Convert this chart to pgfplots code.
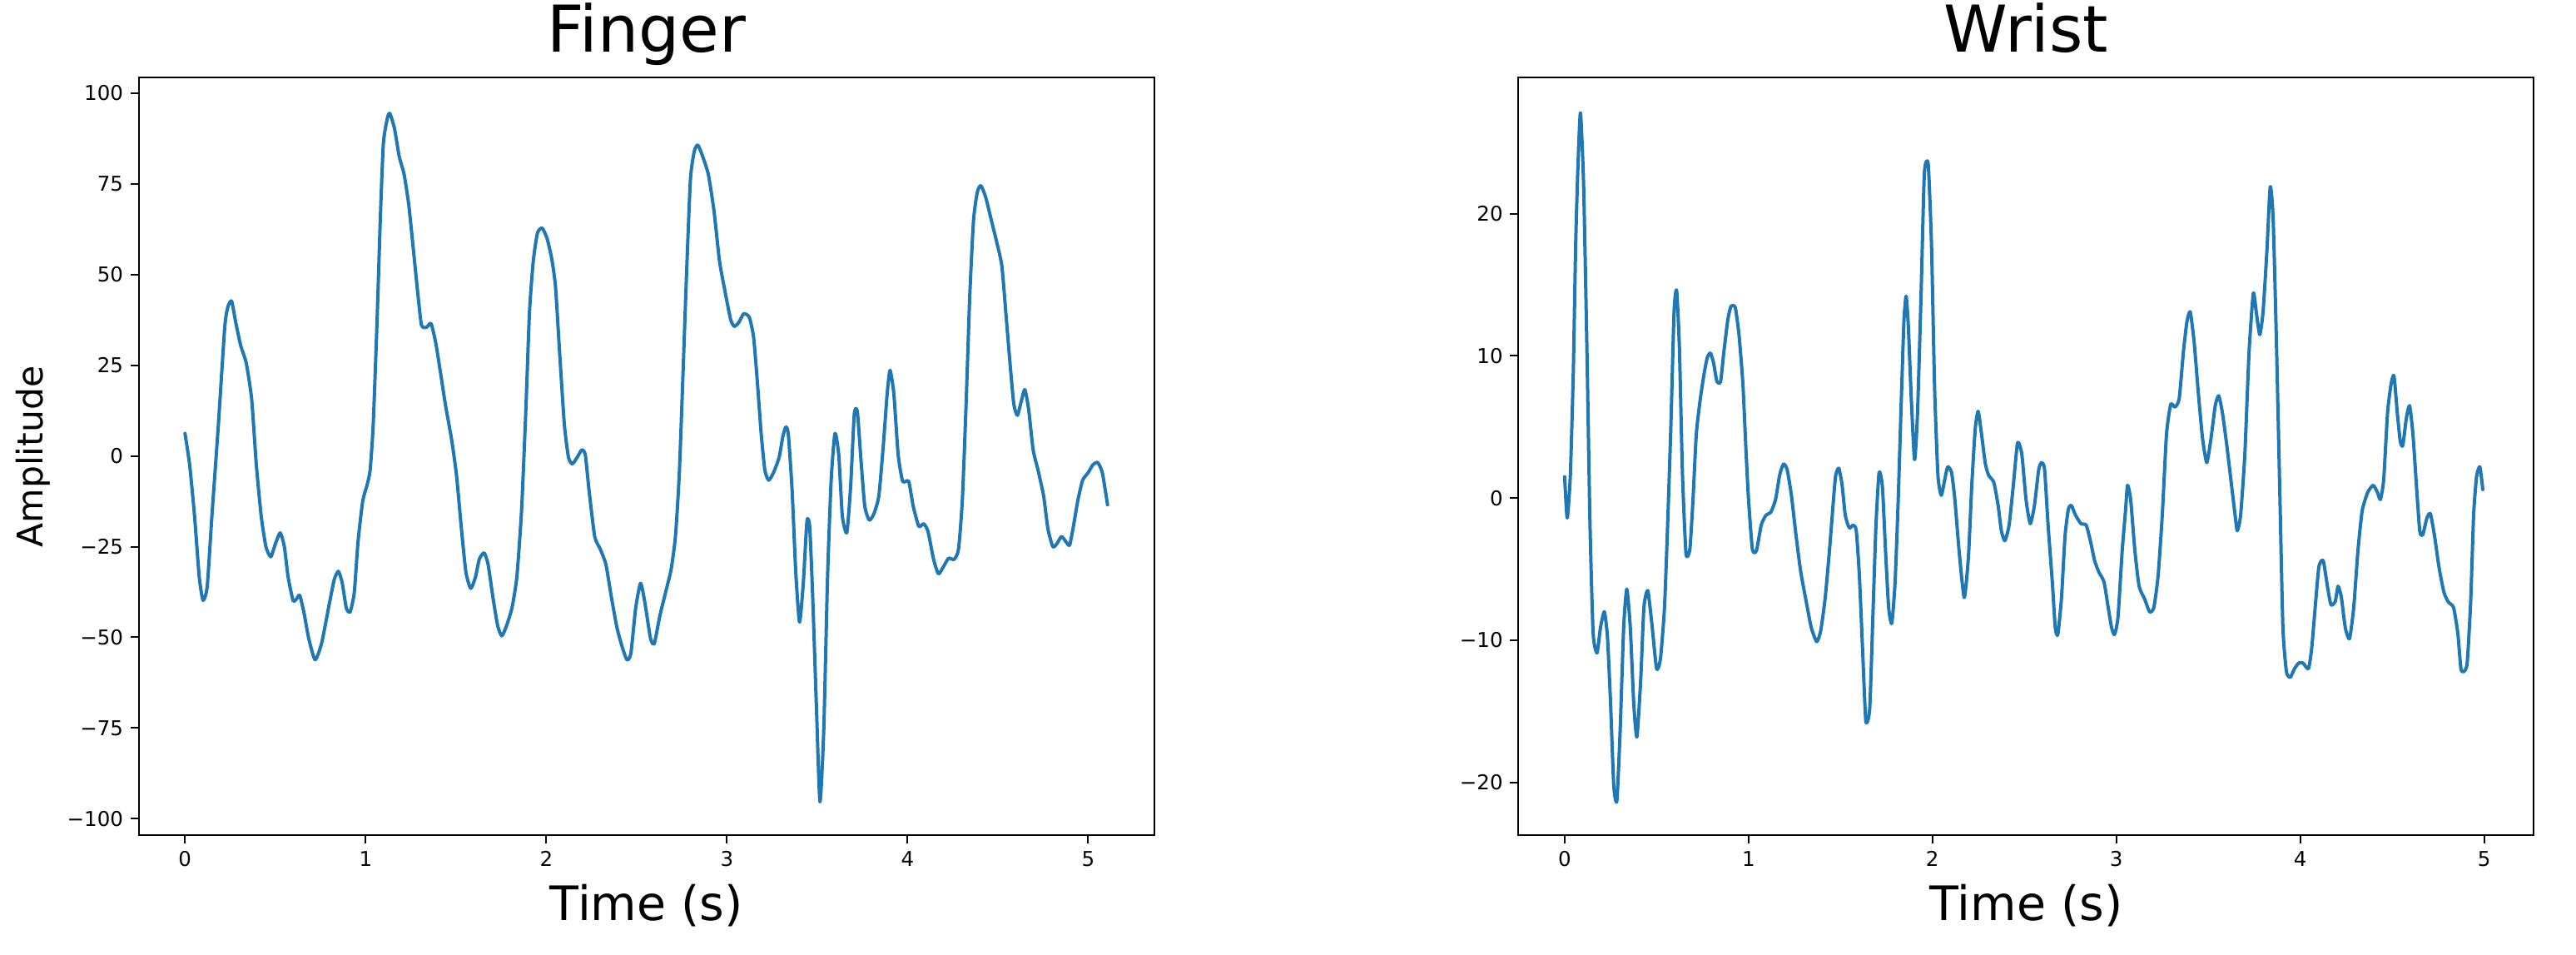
\documentclass[border=0pt]{standalone}
\usepackage{fontspec}
\setmainfont{DejaVu Sans}
\usepackage{pgfplots}
\pgfplotsset{compat=1.18}
\usepackage{pgfplotstable}
\definecolor{mplblue}{RGB}{31,119,180}

\pgfplotstableread{
t v
0 6.2
0.026 -2.5
0.053 -16.6
0.079 -33.4
0.1 -39.8
0.123 -36
0.149 -16.6
0.185 8.7
0.22 35.4
0.237 41
0.258 42.7
0.281 36.8
0.308 30.5
0.339 25.6
0.369 15.7
0.395 -2.5
0.422 -16.6
0.448 -25
0.475 -27.8
0.5 -24.3
0.527 -21.2
0.55 -25
0.571 -33.4
0.598 -39.8
0.615 -39.6
0.635 -38.4
0.659 -43.3
0.685 -50.3
0.72 -56.2
0.756 -51.7
0.8 -40.5
0.826 -34.1
0.849 -31.8
0.87 -34.9
0.893 -41.9
0.914 -43
0.937 -37.7
0.958 -23.6
0.984 -12.4
1.007 -8.2
1.025 -3.9
1.042 8.7
1.063 36.8
1.081 64.9
1.098 86
1.12 93
1.134 94.4
1.16 90.2
1.186 82.5
1.213 77.6
1.239 69.1
1.265 56.5
1.288 45.2
1.309 36.1
1.336 35.4
1.362 36.5
1.388 31.2
1.415 22.8
1.441 14.3
1.476 4.5
1.503 -5.3
1.529 -19.4
1.555 -32
1.582 -36.5
1.608 -33.4
1.629 -28.5
1.656 -26.7
1.678 -29.9
1.705 -39.1
1.731 -46.8
1.754 -49.6
1.78 -46.8
1.81 -41.9
1.837 -33.4
1.863 -15.2
1.886 11.5
1.907 39.6
1.928 53.7
1.951 61.4
1.977 62.8
2.004 60
2.03 54.4
2.051 46.7
2.074 28.4
2.1 8.7
2.123 -0.4
2.144 -2.2
2.171 -0.4
2.197 1.7
2.216 0.3
2.237 -9.6
2.268 -22.2
2.299 -25.7
2.33 -29.9
2.361 -39.1
2.392 -47.5
2.423 -53.1
2.447 -56.2
2.468 -54.5
2.495 -41.9
2.522 -35.1
2.546 -40.5
2.577 -50.3
2.598 -51.7
2.629 -44
2.66 -37.7
2.691 -31.3
2.715 -22.2
2.736 -5.3
2.757 22.8
2.777 50.9
2.798 76.2
2.819 83.9
2.839 85.7
2.866 82.5
2.897 77.6
2.928 67.7
2.959 53.7
2.99 45.2
3.021 37.5
3.041 35.7
3.066 36.8
3.093 39.2
3.124 38.2
3.148 32.6
3.169 20
3.19 5.9
3.21 -3.9
3.231 -6.7
3.258 -4.6
3.289 -0.4
3.309 5.2
3.326 8
3.34 5.9
3.361 -9.6
3.381 -32
3.402 -45.8
3.423 -34.9
3.443 -18
3.458 -19.4
3.474 -37.7
3.495 -68.6
3.515 -95.3
3.536 -75.6
3.557 -33.4
3.577 -6.7
3.598 6.2
3.619 0.3
3.639 -16.6
3.664 -21.1
3.685 -8.2
3.705 11.5
3.722 12.2
3.742 -1.1
3.763 -13.8
3.788 -17.7
3.814 -15.9
3.841 -11
3.866 3.1
3.887 17.1
3.903 23.6
3.924 17.1
3.948 0.3
3.973 -7
4.006 -7
4.031 -13.8
4.062 -19.4
4.089 -18.7
4.113 -20.8
4.144 -28.5
4.171 -32.5
4.2 -30.4
4.227 -28.2
4.258 -28.5
4.282 -25.7
4.303 -12.4
4.324 14.3
4.344 43.8
4.365 64.9
4.386 72.7
4.406 74.5
4.433 71.2
4.464 64.9
4.495 58.6
4.522 52.3
4.546 38.2
4.567 25.6
4.588 14.3
4.608 11.2
4.629 15
4.649 18.3
4.67 12.9
4.695 1.7
4.722 -3.9
4.753 -11
4.777 -20.1
4.804 -25
4.825 -24.3
4.852 -22.2
4.876 -23.6
4.897 -24.6
4.918 -19.4
4.942 -12.4
4.969 -6.7
5.0 -4.6
5.025 -2.5
5.052 -1.8
5.078 -4.6
5.107 -13.5
}\finger

\pgfplotstableread{
t v
0 1.5
0.014 -1.4
0.031 1.6
0.047 8.8
0.06 17.8
0.072 23.2
0.086 27.1
0.103 22.1
0.121 10.6
0.138 -1.9
0.155 -9.5
0.176 -10.9
0.195 -9.1
0.216 -8
0.233 -9.8
0.25 -14.5
0.267 -20.2
0.284 -21.3
0.302 -16.3
0.321 -9.1
0.338 -6.4
0.357 -9.1
0.376 -14.5
0.393 -16.8
0.414 -12.7
0.431 -7.7
0.452 -6.5
0.474 -8.8
0.5 -12
0.521 -11.3
0.543 -7.7
0.56 -1.9
0.578 5.2
0.595 13.1
0.609 14.6
0.624 10.6
0.641 1.6
0.66 -3.9
0.681 -3.6
0.698 -0.1
0.716 4.5
0.738 7
0.759 8.8
0.776 9.9
0.793 10.2
0.81 9.5
0.828 8.2
0.848 8.2
0.866 10.3
0.888 12.6
0.905 13.5
0.928 13.4
0.948 11.5
0.969 8.1
0.986 3.4
1.0 -0.1
1.021 -3.6
1.043 -3.7
1.069 -1.9
1.095 -1.2
1.121 -1
1.147 -0.1
1.169 1.6
1.19 2.4
1.21 2
1.233 0.2
1.259 -2.7
1.284 -5.2
1.314 -7.3
1.341 -9.1
1.371 -10.1
1.393 -9.3
1.417 -7
1.44 -3.7
1.462 -0.1
1.474 1.6
1.491 2.1
1.509 0.9
1.526 -1.2
1.548 -2.1
1.569 -1.9
1.586 -2.3
1.603 -5.5
1.621 -10.9
1.638 -15.7
1.659 -14.8
1.676 -8.4
1.693 -1.9
1.71 1.8
1.728 0.8
1.745 -3.7
1.762 -7.7
1.779 -8.8
1.797 -5.9
1.814 -0.1
1.831 7
1.845 12.4
1.857 14.2
1.869 12.1
1.885 7
1.903 2.7
1.919 6
1.938 14.2
1.956 22.8
1.977 23.5
1.995 17.8
2.012 7.7
2.03 1.6
2.048 0.2
2.067 1.3
2.083 2.2
2.104 1.8
2.122 -0.1
2.145 -3.7
2.173 -7
2.196 -4.1
2.214 0.9
2.233 4.9
2.249 6.1
2.267 4.5
2.288 2.4
2.306 1.6
2.334 1.1
2.357 -0.5
2.375 -2.3
2.394 -3
2.417 -1.9
2.44 0.9
2.463 3.9
2.486 3.1
2.509 -0.1
2.532 -1.8
2.555 -0.5
2.578 2
2.594 2.5
2.61 2
2.629 -1.9
2.652 -5.9
2.668 -9.1
2.682 -9.6
2.702 -7
2.721 -2.7
2.739 -0.8
2.755 -0.5
2.778 -1.2
2.808 -1.8
2.836 -1.9
2.859 -3
2.882 -4.4
2.905 -5.2
2.933 -5.9
2.956 -7.7
2.974 -9.1
2.99 -9.6
3.009 -8.4
3.032 -3.7
3.05 -0.9
3.061 0.9
3.078 -0.1
3.101 -3.7
3.124 -6.2
3.154 -7.1
3.181 -8
3.204 -7.7
3.227 -5.5
3.25 -1.2
3.273 4.5
3.296 6.6
3.319 6.4
3.342 7
3.365 10.3
3.384 12.4
3.402 13.1
3.423 11
3.446 7.4
3.469 4.2
3.492 2.5
3.515 4.2
3.538 6.5
3.557 7.2
3.577 6
3.6 3.8
3.623 1.3
3.646 -1.2
3.658 -2.3
3.676 -1.2
3.699 3.1
3.722 10.3
3.745 14.4
3.761 13.1
3.78 11.5
3.798 13.1
3.819 17.4
3.837 21.9
3.853 19.6
3.872 10.3
3.89 -0.1
3.906 -9.1
3.925 -12.2
3.946 -12.6
3.969 -12
3.992 -11.6
4.015 -11.6
4.045 -12
4.063 -10.5
4.084 -7.3
4.102 -4.8
4.125 -4.4
4.148 -6.2
4.167 -7.5
4.19 -7.3
4.206 -6.2
4.224 -7
4.245 -9.1
4.268 -9.9
4.291 -7.7
4.314 -3.7
4.337 -0.9
4.367 0.4
4.397 0.9
4.42 0.4
4.436 -0.1
4.454 1.3
4.475 6
4.494 8
4.51 8.6
4.528 6
4.544 4
4.558 3.7
4.577 5.6
4.595 6.5
4.613 4.5
4.632 0.9
4.65 -2.3
4.666 -2.6
4.689 -1.4
4.708 -1.1
4.731 -2.7
4.754 -4.8
4.781 -6.6
4.805 -7.3
4.834 -7.7
4.857 -9.5
4.874 -12
4.89 -12.2
4.908 -11.6
4.927 -7.3
4.943 -1.2
4.959 1.5
4.977 2.2
4.993 0.6
}\wrist

\pgfplotsset{
  mplstyle/.style={
    anchor=south west,
    scale only axis,
    width=488pt, height=363.96pt,
    axis line style={line width=0.8pt, black},
    tick align=outside,
    tick pos=left,
    major tick length=4pt,
    tick style={line width=0.8pt, black},
    tick label style={font=\fontsize{9.8}{11}\selectfont},
    /pgf/number format/assume math mode=true,
    xtick={0,1,2,3,4,5},
    title style={at={(axis description cs:0.5,1.0178)}, anchor=base, inner sep=0pt, font=\fontsize{31}{36}\selectfont},
    xlabel style={at={(axis description cs:0.5,-0.11166)}, anchor=base, inner sep=0pt, font=\fontsize{22.8}{26}\selectfont},
    ylabel style={at={(axis description cs:-0.0943,0.5)}, anchor=base, inner sep=0pt, font=\fontsize{17}{20}\selectfont},
  },
  sig/.style={color=mplblue, line width=1.6pt, line join=round, line cap=round, no markers, smooth, tension=0.35},
}

\begin{document}
\begin{tikzpicture}
\useasboundingbox (0,0) rectangle (1238pt,458.4pt);
\begin{axis}[
  mplstyle,
  at={(66.72pt,57.04pt)},
  xmin=-0.2555, xmax=5.3655, ymin=-104.6, ymax=104.2,
  ytick={-100,-75,-50,-25,0,25,50,75,100},
  yticklabels={−100,−75,−50,−25,0,25,50,75,100},
  title={Finger}, xlabel={Time (s)}, ylabel={Amplitude},
]
\addplot[sig] table[x=t, y=v] {\finger};
\end{axis}
\begin{axis}[
  mplstyle,
  at={(729.76pt,57.04pt)},
  xmin=-0.251, xmax=5.271, ymin=-23.73, ymax=29.56,
  ytick={-20,-10,0,10,20},
  yticklabels={−20,−10,0,10,20},
  title={Wrist}, xlabel={Time (s)},
]
\addplot[sig] table[x=t, y=v] {\wrist};
\end{axis}
\end{tikzpicture}
\end{document}
